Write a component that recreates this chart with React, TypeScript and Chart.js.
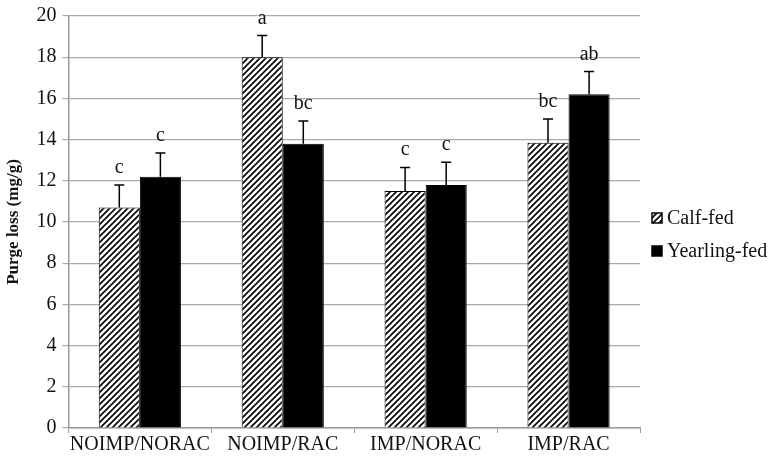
import React, { useEffect, useRef } from "react";
import { Chart, registerables } from "chart.js";

Chart.register(...registerables);

const categories = ["NOIMP/NORAC", "NOIMP/RAC", "IMP/NORAC", "IMP/RAC"];
const seriesNames = ["Calf-fed", "Yearling-fed"];
const calfValues = [10.7, 18.0, 11.5, 13.85];
const calfErrors = [1.1, 1.05, 1.15, 1.15];
const calfLetters = ["c", "a", "c", "bc"];
const yearlingValues = [12.2, 13.8, 11.8, 16.2];
const yearlingErrors = [1.15, 1.1, 1.1, 1.1];
const yearlingLetters = ["c", "bc", "c", "ab"];
const yTicks = [0, 2, 4, 6, 8, 10, 12, 14, 16, 18, 20];

const SERIF = "'Liberation Serif', 'Times New Roman', serif";

function makeHatch(): CanvasPattern | string {
  const c = document.createElement("canvas");
  const s = 6;
  c.width = s;
  c.height = s;
  const g = c.getContext("2d");
  if (!g) return "#fff";
  g.fillStyle = "#fff";
  g.fillRect(0, 0, s, s);
  g.strokeStyle = "#000";
  g.lineWidth = 1.6;
  g.beginPath();
  g.moveTo(-1, s + 1);
  g.lineTo(s + 1, -1);
  g.moveTo(-1, 1);
  g.lineTo(1, -1);
  g.moveTo(s - 1, s + 1);
  g.lineTo(s + 1, s - 1);
  g.stroke();
  const p = g.createPattern(c, "repeat");
  return p || "#fff";
}

const errorBarPlugin = {
  id: "errorBars",
  afterDatasetsDraw(chart: any) {
    const ctx = chart.ctx;
    const yScale = chart.scales.y;
    chart.data.datasets.forEach((ds: any, di: number) => {
      const meta = chart.getDatasetMeta(di);
      meta.data.forEach((el: any, i: number) => {
        const v = ds.data[i];
        const e = ds.errors[i];
        const yTop = yScale.getPixelForValue(v + e);
        ctx.save();
        ctx.strokeStyle = "#000";
        ctx.lineWidth = 1.5;
        ctx.beginPath();
        ctx.moveTo(el.x, el.y);
        ctx.lineTo(el.x, yTop);
        ctx.moveTo(el.x - 5, yTop);
        ctx.lineTo(el.x + 5, yTop);
        ctx.stroke();
        ctx.fillStyle = "#111";
        ctx.font = `20px ${SERIF}`;
        ctx.textAlign = "center";
        ctx.textBaseline = "alphabetic";
        ctx.fillText(ds.letters[i], el.x, yTop - 12);
        ctx.restore();
      });
    });
  },
};

const legendPlugin = {
  id: "customLegend",
  afterDraw(chart: any) {
    const ctx = chart.ctx;
    const area = chart.chartArea;
    const x = area.right + 12;
    const rows = [218, 251];
    chart.data.datasets.forEach((ds: any, i: number) => {
      const y = rows[i];
      ctx.save();
      ctx.fillStyle = ds.backgroundColor;
      ctx.fillRect(x, y - 5, 10, 10);
      ctx.strokeStyle = "#000";
      ctx.lineWidth = 1.5;
      ctx.strokeRect(x, y - 5, 10, 10);
      ctx.fillStyle = "#111";
      ctx.font = `20px ${SERIF}`;
      ctx.textAlign = "left";
      ctx.textBaseline = "middle";
      ctx.fillText(ds.label, x + 15, y + 1);
      ctx.restore();
    });
  },
};

export default function App() {
  const ref = useRef<HTMLCanvasElement | null>(null);
  useEffect(() => {
    if (!ref.current) return;
    const hatch = makeHatch();
    const chart = new Chart(ref.current, {
      type: "bar",
      data: {
        labels: categories,
        datasets: [
          {
            label: seriesNames[0],
            data: calfValues,
            errors: calfErrors,
            letters: calfLetters,
            backgroundColor: hatch,
            borderColor: "#000",
            borderWidth: 1,
            categoryPercentage: 0.575,
            barPercentage: 1,
          } as any,
          {
            label: seriesNames[1],
            data: yearlingValues,
            errors: yearlingErrors,
            letters: yearlingLetters,
            backgroundColor: "#000",
            borderColor: "#000",
            borderWidth: 1,
            categoryPercentage: 0.575,
            barPercentage: 1,
          } as any,
        ],
      },
      options: {
        animation: false,
        responsive: false,
        layout: { padding: { top: 15, right: 131, bottom: 0, left: 0 } },
        plugins: { legend: { display: false }, tooltip: { enabled: false } },
        scales: {
          x: {
            offset: true,
            grid: {
              offset: true,
              drawOnChartArea: false,
              drawTicks: true,
              tickLength: 5,
              color: "#999",
            },
            border: { color: "#999", width: 1.5 },
            ticks: {
              color: "#111",
              font: { family: SERIF, size: 20 },
              padding: 0,
              maxRotation: 0,
              autoSkip: false,
            },
          },
          y: {
            min: 0,
            max: 20,
            afterBuildTicks(scale: any) {
              scale.ticks = yTicks.map((v) => ({ value: v }));
            },
            grid: { color: "#aaa", lineWidth: 1.2, tickLength: 6 },
            border: { color: "#999", width: 1.5 },
            ticks: {
              color: "#111",
              font: { family: SERIF, size: 20, lineHeight: 1 },
              padding: 6,
            },
            title: {
              display: true,
              text: "Purge loss (mg/g)",
              color: "#111",
              font: { family: SERIF, size: 17, weight: "bold" },
              padding: { top: 3, bottom: 7 },
            },
          },
        },
      },
      plugins: [errorBarPlugin, legendPlugin],
    });
    return () => chart.destroy();
  }, []);
  return (
    <div style={{ position: "fixed", left: 0, top: 0, width: 771, height: 457, background: "#fff" }}>
      <canvas ref={ref} width={771} height={457} style={{ width: 771, height: 457 }} />
    </div>
  );
}
